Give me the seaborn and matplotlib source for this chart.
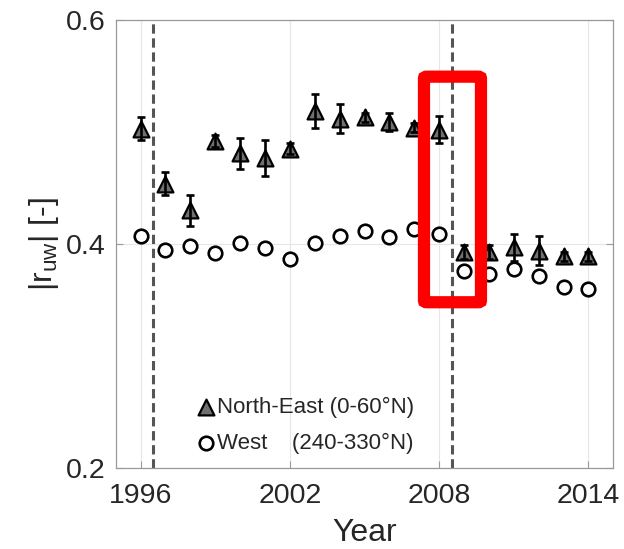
import numpy as np
import pandas as pd
import matplotlib
matplotlib.use("Agg")
import matplotlib.pyplot as plt
from matplotlib.patches import FancyBboxPatch
import seaborn as sns

sns.set_theme(style="white")
plt.rcParams['font.family'] = ['Liberation Sans', 'DejaVu Sans']
plt.rcParams['mathtext.default'] = 'regular'
plt.rcParams['lines.scale_dashes'] = False

# yearly values
years = list(range(1996, 2015))
ne_r = [0.503, 0.454, 0.430, 0.492, 0.481, 0.477, 0.485, 0.519, 0.512, 0.513,
        0.509, 0.504, 0.502, 0.393, 0.393, 0.397, 0.394, 0.389, 0.389]
ne_err = [0.010, 0.010, 0.014, 0.005, 0.014, 0.016, 0.005, 0.015, 0.013, 0.004,
          0.008, 0.004, 0.012, 0.006, 0.006, 0.012, 0.013, 0.004, 0.004]
west_r = [0.407, 0.395, 0.398, 0.392, 0.401, 0.396, 0.387, 0.401, 0.407, 0.412,
          0.406, 0.413, 0.409, 0.376, 0.373, 0.378, 0.371, 0.362, 0.360]
period_breaks = [1996.5, 2008.5]
ne_label = "North-East (0-60°N)"
west_label = "West    (240-330°N)"

df = pd.DataFrame({"year": years, "ne": ne_r, "ne_err": ne_err, "west": west_r})

fig = plt.figure(figsize=(6.24, 5.49), dpi=100)
ax = fig.add_axes([0.1854, 0.1475, 0.7975, 0.8161])

# dashed period separators
for xb in period_breaks:
    ax.axvline(xb, color="#555555", lw=2.2, ls=(0, (6.7, 3.4)), zorder=1)

sns.scatterplot(data=df, x="year", y="west", marker="o", s=95, color="white",
                edgecolor="black", linewidth=1.9, ax=ax, zorder=3, label=west_label)
sns.scatterplot(data=df, x="year", y="ne", marker="^", s=130, color="#707070",
                edgecolor="black", linewidth=1.6, ax=ax, zorder=4, label=ne_label)
ax.errorbar(df["year"], df["ne"], yerr=df["ne_err"], fmt="none", ecolor="black",
            elinewidth=1.9, capsize=3, capthick=1.9, zorder=5)

# highlight box around 2008
box = FancyBboxPatch((2007.39, 0.348), 2009.68 - 2007.39, 0.5494 - 0.348,
                     boxstyle="round,pad=0,rounding_size=0.12", fill=False,
                     edgecolor="#ff0000", lw=8.8, zorder=6, mutation_aspect=0.012)
ax.add_patch(box)

ax.set_xlim(1995, 2015)
ax.set_ylim(0.2, 0.6)
ax.set_xticks([1996, 2002, 2008, 2014])
ax.set_yticks([0.2, 0.4, 0.6])
ax.set_yticklabels(["0.2", "0.4", "0.6"])
ax.grid(True, color="#e6e6e6", lw=0.8)
ax.set_axisbelow(True)
for sp in ax.spines.values():
    sp.set_color("#999999")
    sp.set_linewidth(0.9)
ax.tick_params(direction="in", length=5, width=0.8, color="#999999",
               labelsize=20.5, labelcolor="#262626", top=False, right=True,
               left=True, bottom=True)
ax.tick_params(axis="x", pad=11)
ax.tick_params(axis="y", pad=7)

ax.set_xlabel("Year", fontsize=23, color="#262626", labelpad=6)
ax.set_ylabel("|r$_{uw}$| [-]", fontsize=23, color="#262626", labelpad=4)

handles, labels = ax.get_legend_handles_labels()
order = [labels.index(ne_label), labels.index(west_label)]
ax.legend([handles[i] for i in order], [labels[i] for i in order],
          loc="lower left", bbox_to_anchor=(0.105, -0.004), frameon=False,
          fontsize=16, handletextpad=-0.5, labelspacing=0.7,
          borderaxespad=0.3, markerscale=1.0)

fig.savefig("out.png", dpi=100)
